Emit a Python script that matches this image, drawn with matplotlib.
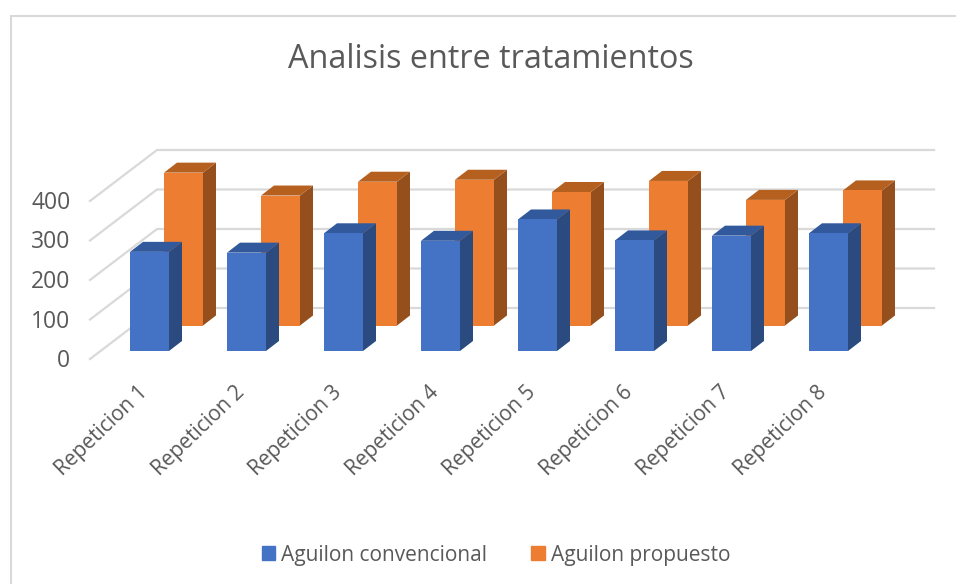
import matplotlib
matplotlib.use("Agg")
import matplotlib.pyplot as plt
from matplotlib.lines import Line2D
from matplotlib.patches import Patch
from matplotlib.transforms import ScaledTranslation

plt.rcParams["font.family"] = ["Open Sans", "DejaVu Sans"]

categories = ["Repeticion 1", "Repeticion 2", "Repeticion 3", "Repeticion 4",
              "Repeticion 5", "Repeticion 6", "Repeticion 7", "Repeticion 8"]
convencional = [251, 249, 298, 279, 333, 280, 292, 298]
propuesto = [387, 329, 364, 369, 338, 366, 318, 342]
y_ticks = [0, 100, 200, 300, 400]

W, H = 956, 584
TEXT = "#595959"
GRID = "#D9D9D9"

# plot area in pixels, one category = 97 px, 100 units = 39.5 px
px_x = 97.0
px_y = 0.395
left, right, top, bottom = 80, 940, 140, 351

fig = plt.figure(figsize=(W / 100, H / 100), dpi=100)
ax = fig.add_axes([left / W, 1 - bottom / H, (right - left) / W, (bottom - top) / H])
ax.set_xlim((left - 130) / px_x, (right - 130) / px_x)
ax.set_ylim(0, (bottom - top) / px_y)
for s in ax.spines.values():
    s.set_visible(False)

# oblique offsets in data units
bar_w = 39 / px_x
depth_x, depth_y = 13 / px_x, 10 / px_y
back_x, back_y = 34 / px_x, 25.5 / px_y
wall_x, wall_y = 27 / px_x, 43 / px_y
front_x, front_y = -40 / px_x, -8 / px_y
wall_end = (934 - 130) / px_x

# outer frame, only top and left are inside the picture
fig.add_artist(Line2D([11 / W, 11 / W, 1], [0, 1 - 16 / H, 1 - 16 / H], transform=fig.transFigure,
                      color=GRID, lw=1.5, solid_joinstyle="miter"))

# floor and wall lines
for t in y_ticks:
    ax.plot([front_x, wall_x, wall_end], [t + front_y, t + wall_y, t + wall_y],
            color=GRID, lw=1.6, clip_on=False, zorder=1, solid_joinstyle="miter")


def draw_series(values, x0, y0, face, side, cap, z):
    xs = [i + x0 for i in range(len(values))]
    ax.bar(xs, values, width=bar_w, bottom=y0, align="edge", color=face, zorder=z + 1, clip_on=False)
    for x, v in zip(xs, values):
        xr = x + bar_w
        y1 = y0 + v
        ax.fill([xr, xr + depth_x, xr + depth_x, xr],
                [y0, y0 + depth_y, y1 + depth_y, y1], color=side, lw=0, zorder=z, clip_on=False)
        ax.fill([x, xr, xr + depth_x, x + depth_x],
                [y1, y1, y1 + depth_y, y1 + depth_y], color=cap, lw=0, zorder=z, clip_on=False)


draw_series(propuesto, back_x, back_y, "#ED7D31", "#954F1C", "#B5601F", 2)
draw_series(convencional, 0, 0, "#4472C4", "#2A4A80", "#31599C", 5)

ax.set_yticks(y_ticks)
ax.set_xticks([i + 7 / px_x for i in range(len(categories))])
ax.set_xticklabels(categories, rotation=44, ha="right", rotation_mode="anchor",
                   fontsize=15, color=TEXT)
ax.tick_params(axis="both", length=0)
ax.tick_params(axis="x", pad=22)
ax.tick_params(axis="y", pad=7, labelsize=16.5, labelcolor=TEXT)
shift = ScaledTranslation(0, -7 / 100, fig.dpi_scale_trans)
for lab in ax.get_yticklabels():
    lab.set_transform(lab.get_transform() + shift)

fig.text(491 / W, 1 - 60 / H, "Analisis entre tratamientos", ha="center", va="center",
         fontsize=23.3, color=TEXT)

handles = [Patch(color="#4472C4", label="Aguilon convencional"),
           Patch(color="#ED7D31", label="Aguilon propuesto")]
fig.legend(handles=handles, loc="center", bbox_to_anchor=(496 / W, 1 - 555 / H), ncol=2, frameon=False,
           fontsize=15, labelcolor=TEXT, handlelength=0.65, handleheight=0.65,
           handletextpad=0.3, columnspacing=2.1)

fig.savefig("out.png", dpi=100)
